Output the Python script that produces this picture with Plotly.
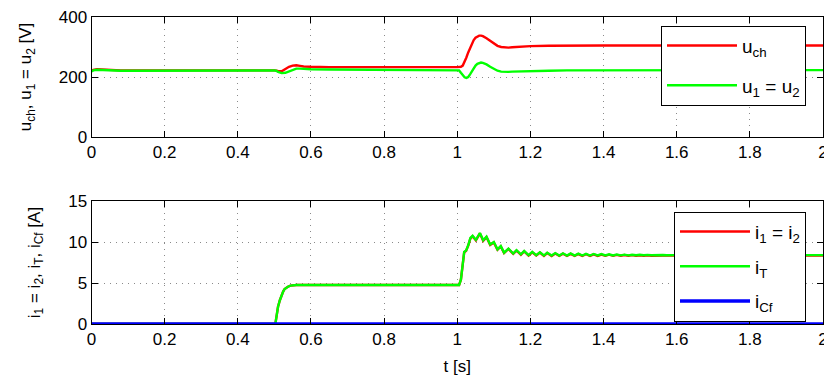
import plotly.graph_objects as go

# ---- data ----
t_u = [0, 0.005, 0.015, 0.03, 0.05, 0.08, 0.5, 0.505, 0.51, 0.52, 0.53, 0.54, 0.55,
       0.56, 0.57, 0.58, 0.6, 0.65, 1.0, 1.005, 1.01, 1.015, 1.02, 1.025, 1.03, 1.035,
       1.04, 1.045, 1.05, 1.055, 1.06, 1.065, 1.07, 1.08, 1.09, 1.1, 1.11, 1.12, 1.13,
       1.14, 1.15, 1.17, 1.2, 1.25, 1.3, 1.4, 1.6, 2.0]
u_ch = [221, 224, 226, 225, 223, 222, 222, 222, 220, 219, 226, 234, 238,
        239, 237, 235, 234, 233, 233, 233, 234, 238, 250, 265, 282, 298,
        312, 323, 331, 336, 338, 338, 336, 329, 320, 311, 304, 300, 298,
        298, 299, 301, 303, 304, 305, 305, 305, 305]
u_12 = [219, 222, 224, 223, 221, 221, 222, 221, 217, 213, 214, 219, 224,
        228, 228, 227, 226, 225, 224, 222, 214, 205, 199, 197, 200, 209,
        220, 230, 238, 244, 247, 248, 247, 242, 234, 227, 221, 218, 217,
        217, 218, 219, 220, 221, 222, 222, 223, 223]

t_i = [0, 0.5, 0.503, 0.507, 0.51, 0.515, 0.519, 0.524, 0.528, 0.533, 0.537, 0.544,
       0.551, 0.56, 0.6, 0.8, 1.0, 1.005, 1.01, 1.014, 1.019, 1.024, 1.03, 1.036,
       1.042, 1.051, 1.062, 1.071, 1.08, 1.09, 1.1, 1.11, 1.119, 1.128, 1.14, 1.153,
       1.162, 1.174, 1.183, 1.195, 1.205, 1.216, 1.226, 1.237, 1.246, 1.258, 1.268,
       1.279, 1.289, 1.3, 1.31, 1.321, 1.331, 1.342, 1.352, 1.363, 1.373, 1.384,
       1.394, 1.405, 1.415, 1.426, 1.436, 1.447, 1.457, 1.468, 1.478, 1.489, 1.499,
       1.51, 1.52, 1.531, 1.541, 1.552, 1.562, 1.573, 1.583, 1.6, 2.0]
i_T = [0, 0, 0.1, 1.2, 2.1, 2.9, 3.5, 3.95, 4.27, 4.45, 4.55, 4.68,
       4.75, 4.76, 4.75, 4.72, 4.7, 4.75, 5.4, 7.2, 8.8, 8.95, 9.6, 10.5,
       10.75, 10.25, 11.1, 10.2, 10.65, 9.7, 10.0, 9.1, 9.5, 8.7, 9.2, 8.6,
       9.0, 8.5, 8.9, 8.4, 8.8, 8.4, 8.75, 8.35, 8.7, 8.35, 8.65,
       8.35, 8.62, 8.35, 8.6, 8.35, 8.58, 8.35, 8.56, 8.35, 8.54, 8.36,
       8.52, 8.36, 8.5, 8.36, 8.48, 8.37, 8.46, 8.37, 8.45, 8.38, 8.44,
       8.38, 8.43, 8.38, 8.42, 8.39, 8.41, 8.39, 8.4, 8.4, 8.4]
i_12 = [0, 0, 0.1, 1.2, 2.1, 2.9, 3.5, 3.95, 4.27, 4.45, 4.55, 4.68,
        4.75, 4.76, 4.75, 4.72, 4.7, 4.75, 5.4, 7.2, 8.75, 8.9, 9.55, 10.45,
        10.7, 10.2, 11.05, 10.15, 10.6, 9.65, 9.95, 9.05, 9.45, 8.65, 9.15, 8.55,
        8.95, 8.45, 8.85, 8.35, 8.75, 8.35, 8.7, 8.3, 8.65, 8.3, 8.6,
        8.3, 8.57, 8.3, 8.55, 8.3, 8.53, 8.3, 8.51, 8.3, 8.49, 8.31,
        8.47, 8.31, 8.45, 8.31, 8.43, 8.32, 8.41, 8.32, 8.4, 8.33, 8.39,
        8.33, 8.38, 8.33, 8.37, 8.34, 8.36, 8.34, 8.35, 8.35, 8.35]
t_cf = [0, 2.0]
i_cf = [0, 0]

x_ticks = [0, 0.2, 0.4, 0.6, 0.8, 1.0, 1.2, 1.4, 1.6, 1.8, 2.0]
x_ticklabels = ["0", "0.2", "0.4", "0.6", "0.8", "1", "1.2", "1.4", "1.6", "1.8", "2"]
u_ticks = [0, 200, 400]
i_ticks = [0, 5, 10, 15]

RED, GREEN, BLUE = "#FF0000", "#00FF00", "#0000FF"
FONT = "Liberation Sans, Arial, Helvetica, sans-serif"
FS = 17
LFS = 19

fig = go.Figure()
fig.add_trace(go.Scatter(x=t_u, y=u_ch, mode="lines", line=dict(color=RED, width=2.4),
                         name="u<sub>ch</sub>", xaxis="x", yaxis="y",
                         legend="legend", legendgroup="a"))
fig.add_trace(go.Scatter(x=t_u, y=u_12, mode="lines", line=dict(color=GREEN, width=2.4),
                         name="u<sub>1</sub> = u<sub>2</sub>", xaxis="x", yaxis="y",
                         legend="legend", legendgroup="b"))
fig.add_trace(go.Scatter(x=t_i, y=i_12, mode="lines", line=dict(color=RED, width=2.4),
                         name="i<sub>1</sub> = i<sub>2</sub>", xaxis="x2", yaxis="y2",
                         legend="legend2", legendgroup="c"))
fig.add_trace(go.Scatter(x=t_i, y=i_T, mode="lines", line=dict(color=GREEN, width=2.4),
                         name="i<sub>T</sub>", xaxis="x2", yaxis="y2",
                         legend="legend2", legendgroup="d"))
fig.add_trace(go.Scatter(x=t_cf, y=i_cf, mode="lines", line=dict(color=BLUE, width=3.6),
                         name="i<sub>Cf</sub>", xaxis="x2", yaxis="y2",
                         legend="legend2", legendgroup="e"))

# page body margin of 8 px shifts the figure; the overflow on the right/bottom is clipped
OFF = 8
W, H = 832 - OFF, 382 - OFF


def px_x(x):
    return (x - OFF) / W


def px_y(y):
    return 1 - (y - OFF) / H


xdom = [px_x(91.5), px_x(823)]
ydom_top = [px_y(137), px_y(17)]
ydom_bot = [px_y(324), px_y(201)]

axis_common = dict(showline=True, linecolor="black", linewidth=1, mirror="ticks",
                   ticks="inside", ticklen=6, tickcolor="black", tickwidth=1,
                   showgrid=True, gridcolor="#8a8a8a", griddash="1px,5px", gridwidth=1,
                   zeroline=False, automargin=False, ticklabeloverflow="allow",
                   tickfont=dict(family=FONT, size=FS, color="black"))

fig.update_layout(
    width=W, height=H, margin=dict(l=0, r=0, t=0, b=0, autoexpand=False),
    paper_bgcolor="white", plot_bgcolor="white",
    font=dict(family=FONT, size=FS, color="black"),
    xaxis=dict(domain=xdom, range=[0, 2], tickvals=x_ticks, ticktext=x_ticklabels,
               anchor="y", **axis_common),
    yaxis=dict(domain=ydom_top, range=[0, 400], tickvals=u_ticks, anchor="x",
               title=dict(text="u<sub>ch</sub>, u<sub>1</sub> = u<sub>2</sub> [V]",
                          font=dict(family=FONT, size=FS), standoff=22),
               **axis_common),
    xaxis2=dict(domain=xdom, range=[0, 2], tickvals=x_ticks, ticktext=x_ticklabels,
                anchor="y2", title=dict(text="t [s]", font=dict(family=FONT, size=FS), standoff=11),
                **axis_common),
    yaxis2=dict(domain=ydom_bot, range=[0, 15], tickvals=i_ticks, anchor="x2",
                title=dict(text="i<sub>1</sub> = i<sub>2</sub>, i<sub>T</sub>, i<sub>Cf</sub> [A]",
                           font=dict(family=FONT, size=FS), standoff=23),
                **axis_common),
    legend=dict(x=px_x(806), xanchor="right", y=px_y(25.7), yanchor="top",
                bgcolor="white", bordercolor="black", borderwidth=1,
                font=dict(family=FONT, size=LFS), tracegroupgap=12, itemwidth=70),
    legend2=dict(x=px_x(806), xanchor="right", y=px_y(211.7), yanchor="top",
                 bgcolor="white", bordercolor="black", borderwidth=1,
                 font=dict(family=FONT, size=LFS), tracegroupgap=7, itemwidth=70),
    showlegend=True,
)

fig.write_html("out.html")
